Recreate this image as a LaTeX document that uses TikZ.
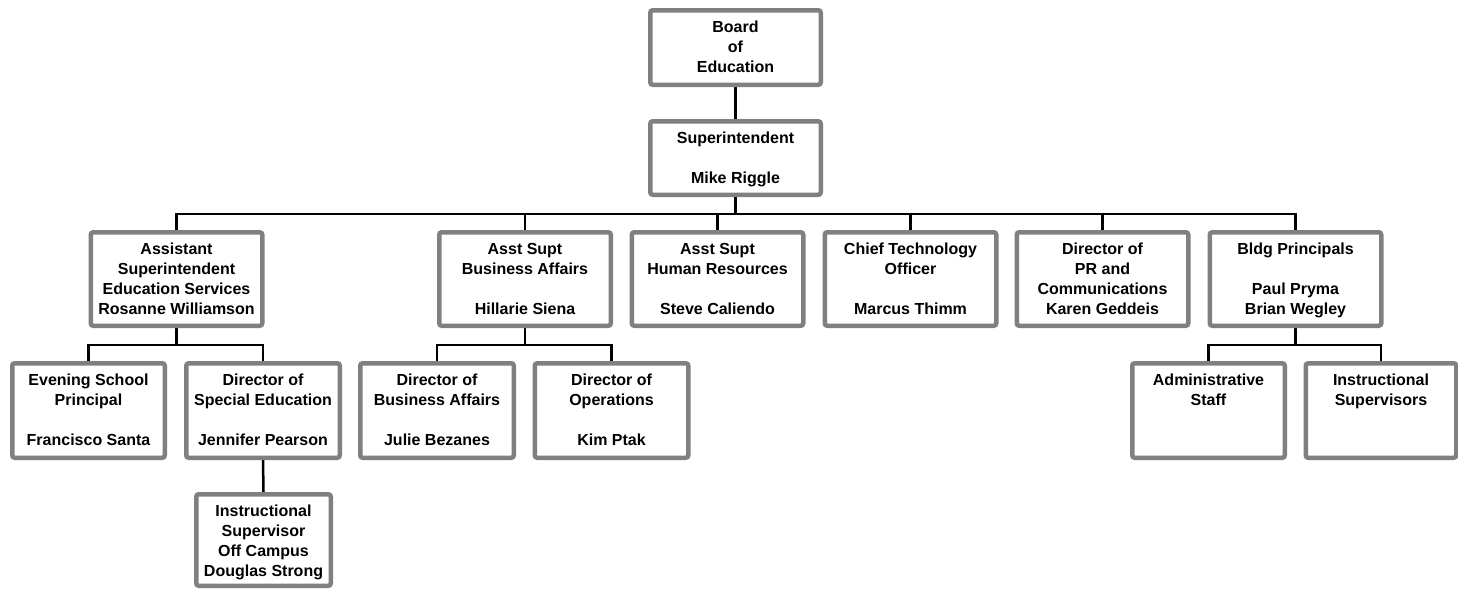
\documentclass[tikz,border=0pt]{standalone}
\usepackage{fontspec}
\setmainfont{Liberation Sans}
\usepackage{tikz}
\usetikzlibrary{backgrounds}

\definecolor{boxgray}{RGB}{128,128,128}
\tikzset{
  org/.style={draw=boxgray, line width=4.5pt, rounded corners=2.5pt, fill=white, inner sep=0pt},
  link/.style={line width=2.5pt, black}
}
\newcommand{\boxtext}[3]{\parbox[c][#2][t]{#1}{\centering\rule{0pt}{22.5pt}#3}}

\begin{document}
\begin{tikzpicture}[x=1pt, y=-1pt, font=\fontsize{16}{20}\selectfont\bfseries]
\useasboundingbox (0,0) rectangle (1458,590);

\node[org] (board) at (735.5,47.5) {\boxtext{170.5pt}{74.5pt}{Board\\of\\Education}};
\node[org] (supt) at (735.5,158) {\boxtext{170.5pt}{73.5pt}{Superintendent\\[20pt]Mike Riggle}};

% first row
\node[org] (asst) at (176.5,279) {\boxtext{171.5pt}{93.5pt}{Assistant\\Superintendent\\Education Services\\Rosanne Williamson}};
\node[org] (bus) at (525,279) {\boxtext{171.5pt}{93.5pt}{Asst Supt\\Business Affairs\\[20pt]Hillarie Siena}};
\node[org] (hr) at (717.5,279) {\boxtext{171.5pt}{93.5pt}{Asst Supt\\Human Resources\\[20pt]Steve Caliendo}};
\node[org] (cto) at (910.5,279) {\boxtext{171.5pt}{93.5pt}{Chief Technology\\Officer\\[20pt]Marcus Thimm}};
\node[org] (pr) at (1102.5,279) {\boxtext{171.5pt}{93.5pt}{Director of\\PR and\\Communications\\Karen Geddeis}};
\node[org] (bldg) at (1295.5,279) {\boxtext{171.5pt}{93.5pt}{Bldg Principals\\[20pt]Paul Pryma\\Brian Wegley}};

% second row
\node[org] (evening) at (88.5,410.5) {\boxtext{152.5pt}{94.5pt}{Evening School\\Principal\\[20pt]Francisco Santa}};
\node[org] (sped) at (263,410.5) {\boxtext{153.5pt}{94.5pt}{Director of\\Special Education\\[20pt]Jennifer Pearson}};
\node[org] (dirba) at (437,410.5) {\boxtext{153.5pt}{94.5pt}{Director of\\Business Affairs\\[20pt]Julie Bezanes}};
\node[org] (ops) at (611.5,410.5) {\boxtext{153.5pt}{94.5pt}{Director of\\Operations\\[20pt]Kim Ptak}};
\node[org] (admin) at (1208.5,410.5) {\boxtext{152.5pt}{94.5pt}{Administrative\\Staff}};
\node[org] (instr) at (1381,410.5) {\boxtext{150.5pt}{94.5pt}{Instructional\\Supervisors}};

\node[org] (offcampus) at (263.5,540) {\boxtext{134.5pt}{91.5pt}{Instructional\\Supervisor\\Off Campus\\Douglas Strong}};

\coordinate (topbus) at (735.5,214);
\coordinate (asstbus) at (176.5,345);
\coordinate (busbus) at (525,345);
\coordinate (bldgbus) at (1295.5,345);

\begin{scope}[on background layer]
\draw[link] (board.south) -- (supt.north);
\draw[link] (supt.south) -- (topbus);
\foreach \n in {asst,bus,hr,cto,pr,bldg}
  \draw[link] (topbus) -| (\n.north);
\draw[link] (asst.south) -- (asstbus);
\foreach \n in {evening,sped}
  \draw[link] (asstbus) -| (\n.north);
\draw[link] (bus.south) -- (busbus);
\foreach \n in {dirba,ops}
  \draw[link] (busbus) -| (\n.north);
\draw[link] (bldg.south) -- (bldgbus);
\foreach \n in {admin,instr}
  \draw[link] (bldgbus) -| (\n.north);
\draw[link] (sped.south) -- (offcampus.north);
\end{scope}
\end{tikzpicture}
\end{document}
